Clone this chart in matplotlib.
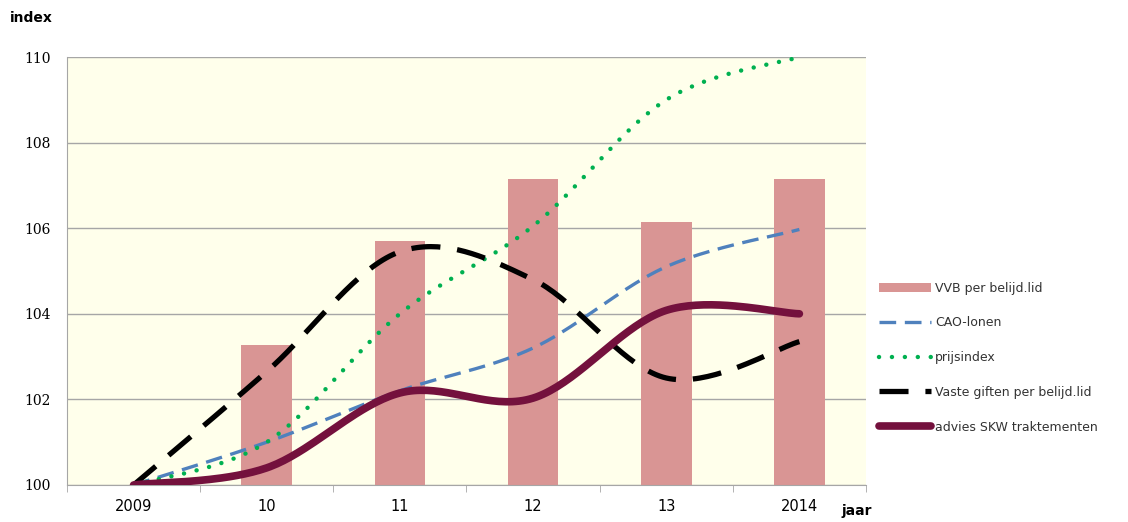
import numpy as np
import matplotlib.pyplot as plt

# gegevens
jaren = ['2009', '10', '11', '12', '13', '2014']
vvb = [100.0, 103.28, 105.7, 107.15, 106.14, 107.15]
cao = [100.0, 101.0, 102.2, 103.2, 105.1, 105.97]
prijs = [100.0, 101.0, 104.0, 106.05, 109.0, 110.0]
giften = [100.0, 102.65, 105.45, 104.8, 102.5, 103.35]
skw = [100.0, 100.4, 102.15, 102.03, 104.08, 104.0]


def smooth(y, n=40):
    # Excel-achtige gladde lijn (Catmull-Rom Bezier) door de punten
    x = np.arange(len(y), dtype=float)
    y = np.asarray(y, dtype=float)
    P = np.column_stack([x, y])
    P = np.vstack([P[0], P, P[-1]])
    xs, ys = [], []
    t = np.linspace(0, 1, n)
    for i in range(1, len(P) - 2):
        p0, p3 = P[i], P[i + 1]
        c1 = p0 + (P[i + 1] - P[i - 1]) / 6
        c2 = p3 - (P[i + 2] - P[i]) / 6
        b = ((1 - t)**3)[:, None] * p0 + (3 * (1 - t)**2 * t)[:, None] * c1 \
            + (3 * (1 - t) * t**2)[:, None] * c2 + (t**3)[:, None] * p3
        xs.extend(b[:, 0])
        ys.extend(b[:, 1])
    return np.array(xs), np.array(ys)


fig = plt.figure(figsize=(11.28, 5.22), dpi=100)
ax = fig.add_axes([0.0594, 0.0709, 0.7083, 0.8199])
ax.set_facecolor('#FFFFEB')

x = np.arange(len(jaren))
ax.bar(x, np.array(vvb) - 100, bottom=100, width=0.38, color='#D99594',
       label='VVB per belijd.lid', zorder=2)

xs, ys = smooth(cao)
ax.plot(xs, ys, color='#4F81BD', lw=2.4, dashes=(5, 2.6), label='CAO-lonen', zorder=3)
xs, ys = smooth(prijs)
ax.plot(xs, ys, color='#00B050', lw=3.2, dashes=(0.01, 2.9), dash_capstyle='round',
        label='prijsindex', zorder=3)
xs, ys = smooth(giften)
ax.plot(xs, ys, color='black', lw=3.8, dashes=(5.5, 3.2), label='Vaste giften per belijd.lid', zorder=4)
xs, ys = smooth(skw)
ax.plot(xs, ys, color='#74113D', lw=5.5, solid_capstyle='round',
        label='advies SKW traktementen', zorder=5)

ax.set_xlim(-0.5, 5.5)
ax.set_ylim(100, 110)
ax.set_yticks([100, 102, 104, 106, 108, 110])
ax.grid(axis='y', color='#A6A6A6', lw=1, zorder=0)
ax.set_axisbelow(True)
ax.set_xticks(x)
ax.set_xticklabels(jaren, fontsize=10.5)
ax.set_xticks(np.arange(-0.5, 6, 1), minor=True)
ax.tick_params(axis='x', which='major', length=0, pad=10)
ax.tick_params(axis='x', which='minor', length=5, color='#A6A6A6')
ax.tick_params(axis='y', length=0, labelsize=11, pad=12)
for lbl in ax.get_yticklabels():
    lbl.set_family('DejaVu Serif')
    lbl.set_fontsize(10)
for s in ['top', 'right']:
    ax.spines[s].set_visible(False)
ax.spines['left'].set_color('#A6A6A6')
ax.spines['bottom'].set_color('#A6A6A6')

fig.text(0.009, 0.965, 'index', fontsize=10, fontweight='bold', va='center')
fig.text(0.746, 0.022, 'jaar', fontsize=10, fontweight='bold', va='center')

handles, labels = ax.get_legend_handles_labels()
order = [4, 0, 1, 2, 3]
leg = ax.legend([handles[i] for i in order], [labels[i] for i in order],
                loc='upper left', bbox_to_anchor=(1.01, 0.487), frameon=False,
                fontsize=9, handlelength=4.2, handletextpad=0.3, labelspacing=1.74,
                borderaxespad=0)
for txt in leg.get_texts():
    txt.set_color('#333333')

fig.savefig('out.png', dpi=100)
